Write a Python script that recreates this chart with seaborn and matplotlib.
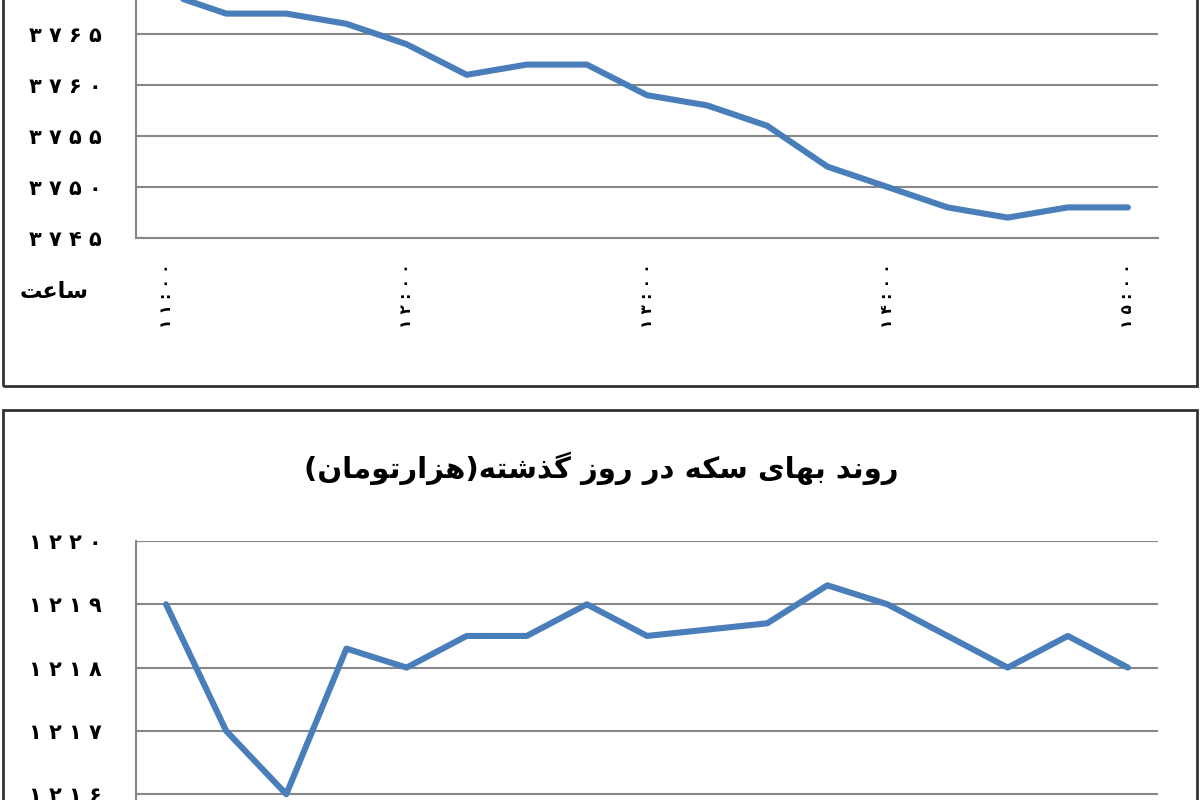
import matplotlib
matplotlib.use("Agg")
import matplotlib.pyplot as plt
import seaborn as sns
import numpy as np
import pandas as pd
from matplotlib.ticker import FuncFormatter, FixedLocator
from matplotlib.patches import Rectangle

# data (15 minute steps)
hour_labels = ["11:00", "12:00", "13:00", "14:00", "15:00"]
dollar_vals = [3769, 3767, 3767, 3766, 3764, 3761, 3762, 3762, 3759, 3758,
               3756, 3752, 3750, 3748, 3747, 3748, 3748]
coin_vals = [1219, 1217, 1216, 1218.3, 1218, 1218.5, 1218.5, 1219, 1218.5, 1218.6,
             1218.7, 1219.3, 1219, 1218.5, 1218, 1218.5, 1218]
coin_title = "روند بهای سکه در روز گذشته(هزارتومان)"
hour_word = "ساعت"

# arabic letter forms: isolated, final, initial, medial
FORMS = {
    'ا': ('\uFE8D', '\uFE8E', None, None),
    'ب': ('\uFE8F', '\uFE90', '\uFE91', '\uFE92'),
    'ت': ('\uFE95', '\uFE96', '\uFE97', '\uFE98'),
    'د': ('\uFEA9', '\uFEAA', None, None),
    'ذ': ('\uFEAB', '\uFEAC', None, None),
    'ر': ('\uFEAD', '\uFEAE', None, None),
    'ز': ('\uFEAF', '\uFEB0', None, None),
    'س': ('\uFEB1', '\uFEB2', '\uFEB3', '\uFEB4'),
    'ش': ('\uFEB5', '\uFEB6', '\uFEB7', '\uFEB8'),
    'ع': ('\uFEC9', '\uFECA', '\uFECB', '\uFECC'),
    'م': ('\uFEE1', '\uFEE2', '\uFEE3', '\uFEE4'),
    'ن': ('\uFEE5', '\uFEE6', '\uFEE7', '\uFEE8'),
    'ه': ('\uFEE9', '\uFEEA', '\uFEEB', '\uFEEC'),
    'و': ('\uFEED', '\uFEEE', None, None),
    'ک': ('\uFB8E', '\uFB8F', '\uFB90', '\uFB91'),
    'گ': ('\uFB92', '\uFB93', '\uFB94', '\uFB95'),
    'ی': ('\uFBFC', '\uFBFD', '\uFBFE', '\uFBFF'),
}
MIRROR = {'(': ')', ')': '('}


def shape(text):
    out = []
    for i, c in enumerate(text):
        if c not in FORMS:
            out.append(MIRROR.get(c, c))
            continue
        prev = text[i - 1] if i > 0 else None
        nxt = text[i + 1] if i + 1 < len(text) else None
        jp = prev in FORMS and FORMS[prev][2] is not None
        jn = nxt in FORMS and FORMS[c][2] is not None
        iso, fin, ini, med = FORMS[c]
        if jp and jn:
            out.append(med)
        elif jp:
            out.append(fin)
        elif jn:
            out.append(ini)
        else:
            out.append(iso)
    return "".join(reversed(out))


def fa_digits(s):
    return s.translate(str.maketrans("0123456789", "۰۱۲۳۴۵۶۷۸۹"))


sns.set_style("white")
plt.rcParams['font.family'] = ['DejaVu Sans']
plt.rcParams['text.color'] = 'black'
plt.rcParams['xtick.labelcolor'] = 'black'
plt.rcParams['ytick.labelcolor'] = 'black'

blue = '#4A7EBB'
gray = '#878787'
fig = plt.figure(figsize=(12, 8), dpi=100)

# panel frames
fig.add_artist(Rectangle((3 / 1200, 1 - 386 / 800), 1194 / 1200, 0.6, transform=fig.transFigure,
                         fill=False, edgecolor='#333333', linewidth=2))
fig.add_artist(Rectangle((3 / 1200, -0.2), 1194 / 1200, 0.2 + 1 - 410 / 800, transform=fig.transFigure,
                         fill=False, edgecolor='#333333', linewidth=2))

idx = np.arange(len(dollar_vals))
ax1 = fig.add_axes([136 / 1200, 1 - 238 / 800, 1022 / 1200, 255 / 800])
ax2 = fig.add_axes([136 / 1200, 1 - 857.5 / 800, 1022 / 1200, 316.5 / 800])

sns.lineplot(x=idx, y=dollar_vals, ax=ax1, color=blue, linewidth=4.4)
sns.lineplot(x=idx, y=coin_vals, ax=ax2, color=blue, linewidth=4.4)

ax1.set_ylim(3745, 3770)
ax1.set_yticks(np.arange(3745, 3766, 5))
ax2.set_ylim(1215, 1220)
ax2.set_yticks(np.arange(1216, 1221, 1))

for ax in (ax1, ax2):
    ax.set_xlim(-0.5, len(idx) - 0.5)
    ax.yaxis.set_major_formatter(FuncFormatter(lambda v, p: " ".join(fa_digits(str(int(round(v)))))))
    ax.grid(axis='y', color=gray, linewidth=1.5)
    ax.set_axisbelow(True)
    for side in ('top', 'right'):
        ax.spines[side].set_visible(False)
    ax.spines['left'].set_color(gray)
    ax.spines['left'].set_linewidth(1.5)
    ax.spines['bottom'].set_color(gray)
    ax.spines['bottom'].set_linewidth(1.5)
    ax.tick_params(axis='y', length=8, width=1.5, color=gray, pad=17, labelsize=15)
    for lab in ax.get_yticklabels():
        lab.set_fontweight('bold')
    ax.set_xlabel("")
    ax.set_ylabel("")

# the coin panel's grid line at 1220 stands in for a top edge
ax2.axhline(1220, color=gray, linewidth=1.5, zorder=0.5)

# category boundary ticks, hour labels every 4 steps
ax1.xaxis.set_major_locator(FixedLocator(np.arange(-0.5, len(idx), 1)))
ax1.xaxis.set_major_formatter(FuncFormatter(lambda v, p: ""))
ax1.set_xticks(idx[::4], minor=True)
ax1.set_xticklabels([" ".join(fa_digits(h)) for h in hour_labels], minor=True,
                    rotation=90, fontsize=11, fontweight='bold')
ax1.tick_params(axis='x', which='major', length=7, width=1.5, color=gray, direction='out')
ax1.tick_params(axis='x', which='minor', length=0, pad=18)
ax2.set_xticks([])

fig.text(54 / 1200, 1 - 292 / 800, shape(hour_word), ha='center', va='center',
         fontsize=16, fontweight='bold')
fig.text(601 / 1200, 1 - 468 / 800, shape(coin_title), ha='center', va='center',
         fontsize=21, fontweight='bold')

fig.savefig("out.png", dpi=100)
